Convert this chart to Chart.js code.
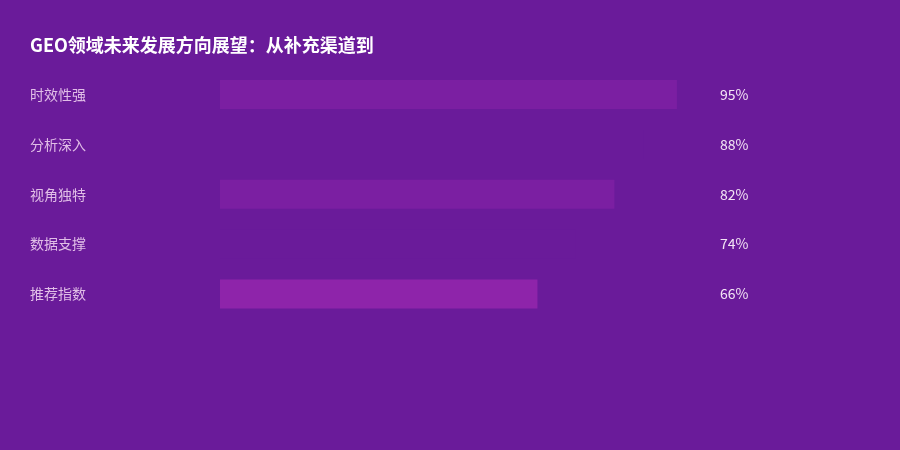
<!DOCTYPE html>
<html>
<head>
<meta charset="utf-8">
<script src="https://cdn.jsdelivr.net/npm/chart.js@4/dist/chart.umd.min.js"></script>
<style>
  html, body { margin: 0; padding: 0; background: #6a1b9a; }
  #wrap { width: 900px; height: 450px; }
</style>
</head>
<body>
<div id="wrap"><canvas id="mainChart"></canvas></div>
<script>
// data
const categories = ['时效性强', '分析深入', '视角独特', '数据支撑', '推荐指数'];
const scores = [95, 88, 82, 74, 66];
const barColors = ['#7b1fa2', '#6a1b9a', '#7b1fa2', '#6a1b9a', '#8e24aa'];
const chartTitle = 'GEO领域未来发展方向展望：从补充渠道到';

const cjkFont = '"Noto Sans CJK SC", "Noto Sans", sans-serif';

// percentage labels to the right of the plot area
const valueLabels = {
  id: 'valueLabels',
  afterDatasetsDraw(chart) {
    const ctx = chart.ctx;
    const meta = chart.getDatasetMeta(0);
    ctx.save();
    ctx.font = '14px ' + cjkFont;
    ctx.fillStyle = '#f3e5f5';
    ctx.textAlign = 'left';
    ctx.textBaseline = 'middle';
    meta.data.forEach((bar, i) => {
      ctx.fillText(scores[i] + '%', chart.chartArea.right + 19, bar.y);
    });
    ctx.restore();
  }
};

const ctxMain = document.getElementById('mainChart').getContext('2d');
new Chart(ctxMain, {
  type: 'bar',
  data: {
    labels: categories,
    datasets: [{
      data: scores,
      backgroundColor: barColors,
      borderWidth: 0,
      barPercentage: 0.58,
      categoryPercentage: 1
    }]
  },
  options: {
    indexAxis: 'y',
    responsive: true,
    maintainAspectRatio: false,
    animation: false,
    layout: { padding: { top: 20, left: 30, right: 199, bottom: 131 } },
    scales: {
      x: { display: false, min: 0, max: 100 },
      y: {
        grid: { display: false },
        border: { display: false },
        afterFit(scale) { scale.width = 190; },
        ticks: {
          crossAlign: 'far',
          color: '#e1bee7',
          font: { size: 14, family: cjkFont }
        }
      }
    },
    plugins: {
      legend: { display: false },
      tooltip: { enabled: false },
      title: {
        display: true,
        text: chartTitle,
        align: 'start',
        color: '#ffffff',
        font: { size: 18, weight: 'bold', family: cjkFont },
        padding: { top: 14, bottom: 14 }
      }
    }
  },
  plugins: [valueLabels]
});
</script>
</body>
</html>
